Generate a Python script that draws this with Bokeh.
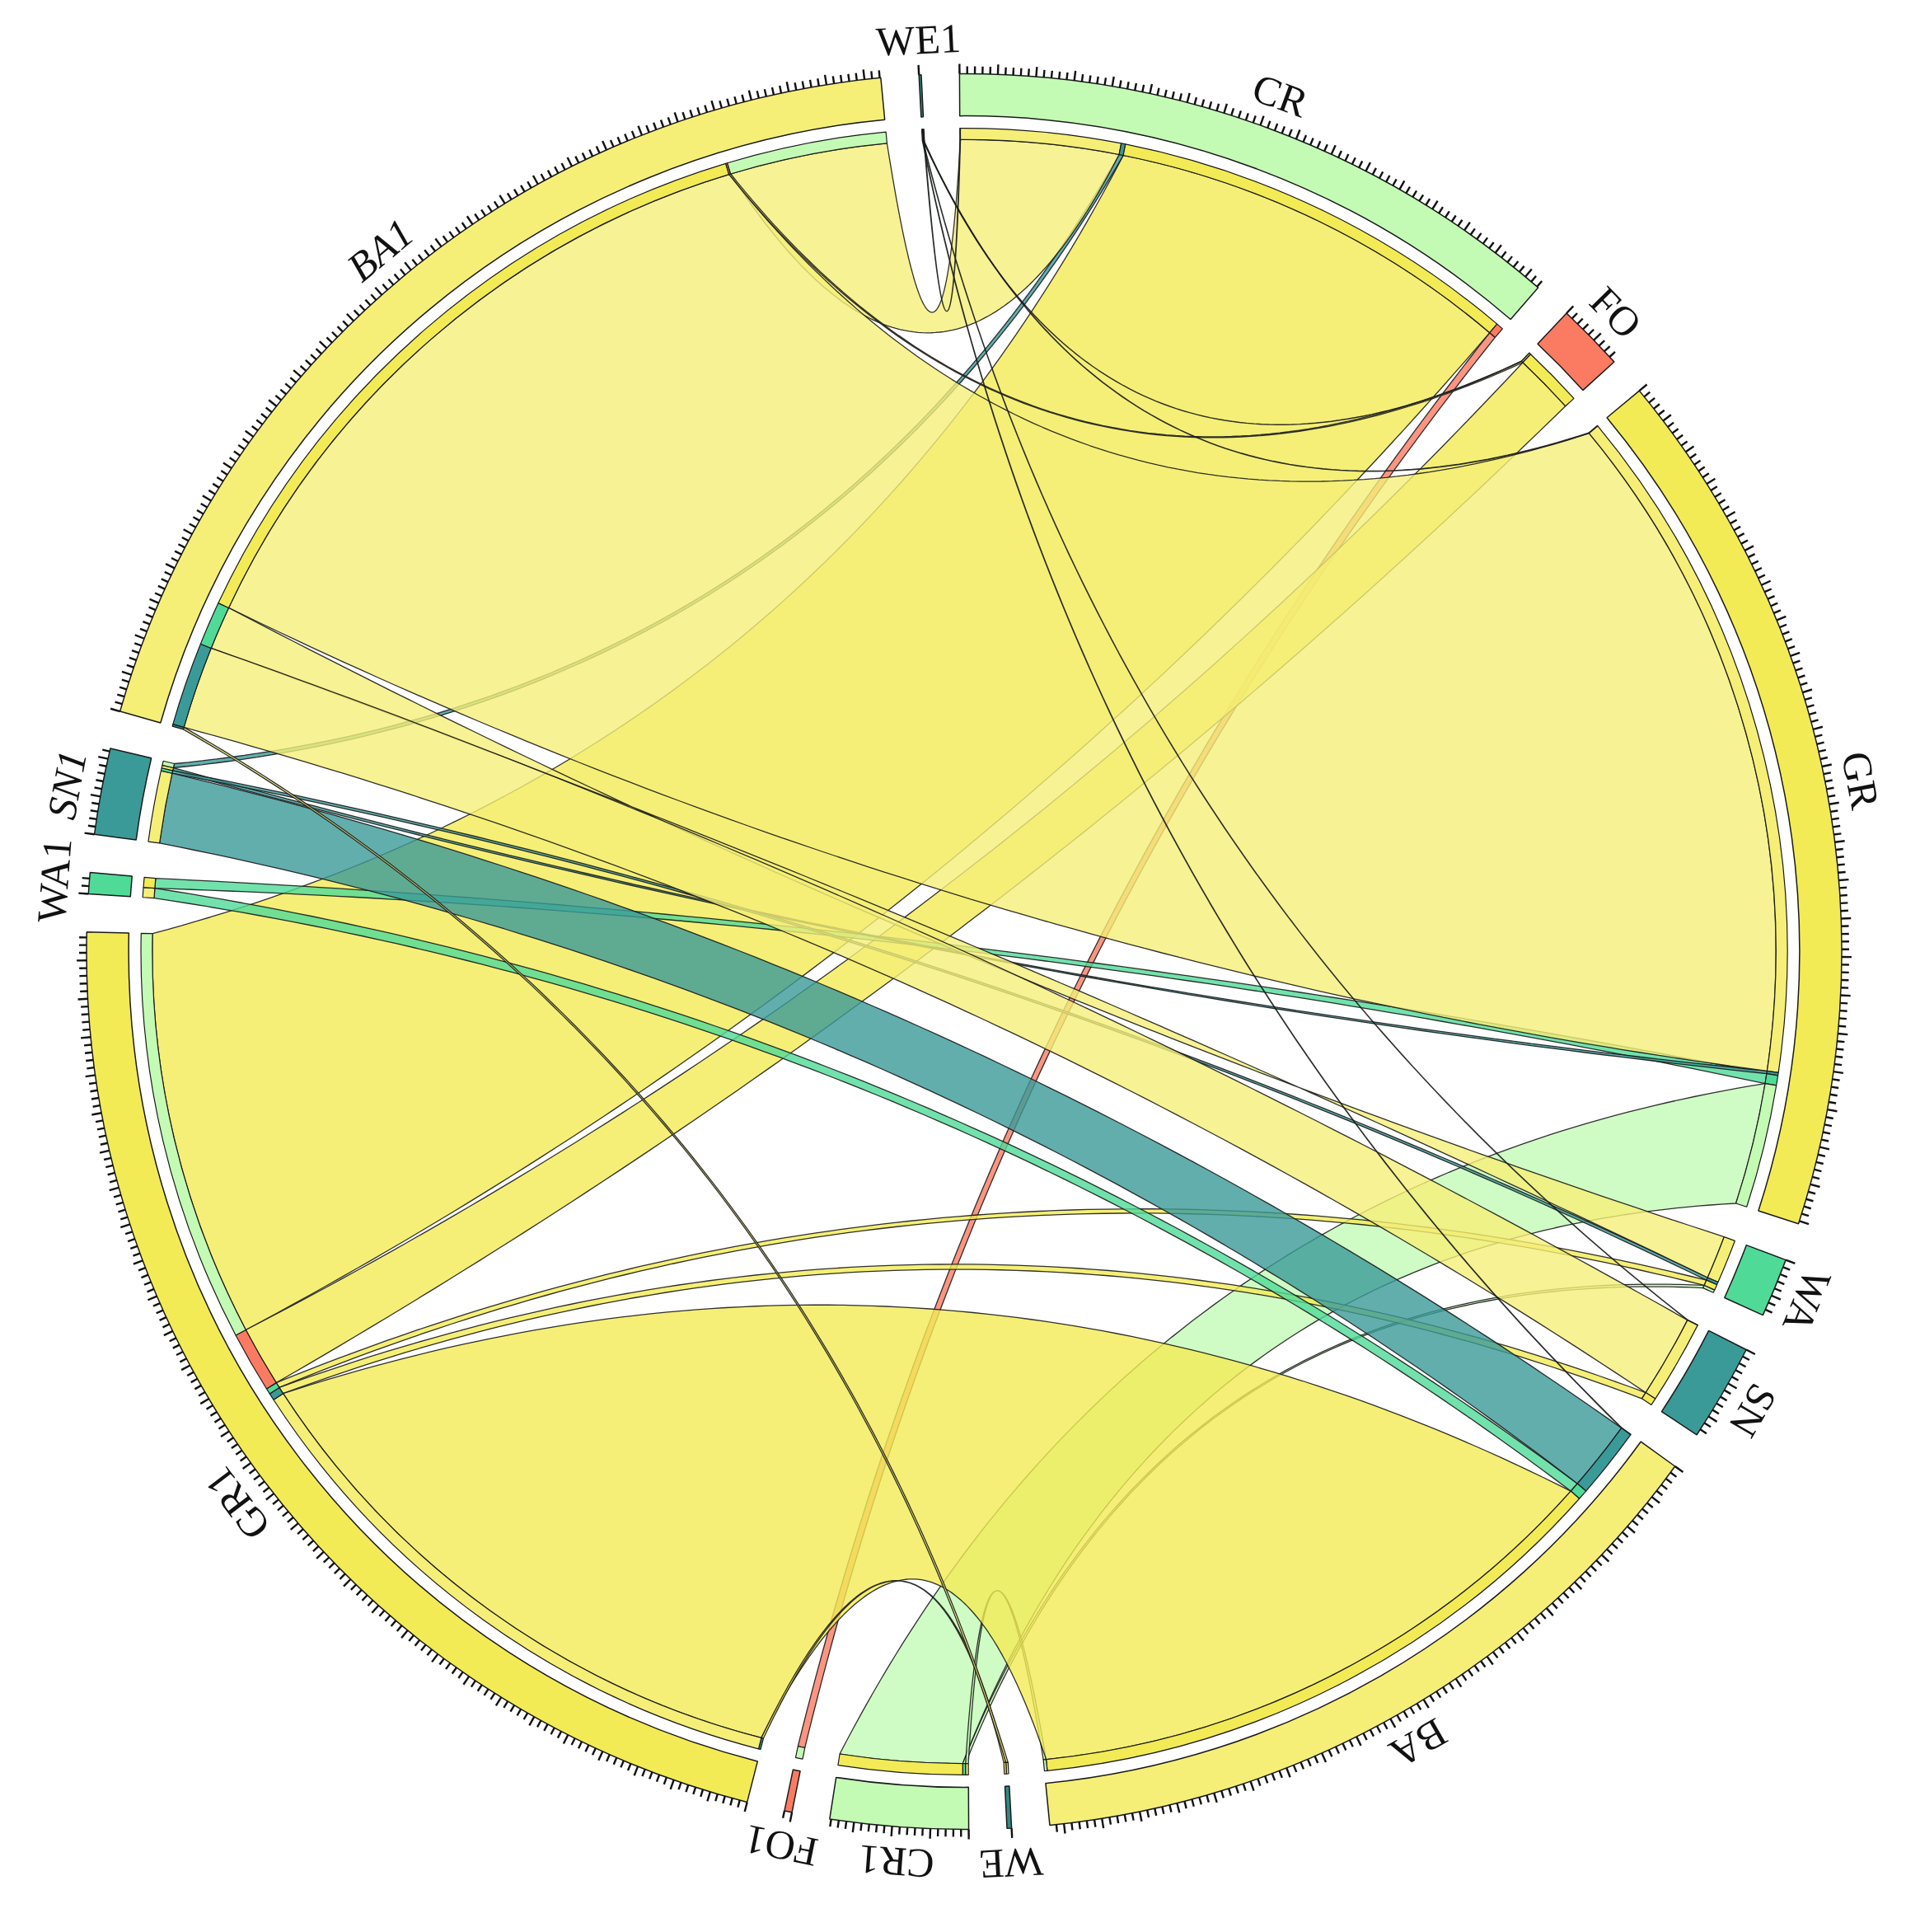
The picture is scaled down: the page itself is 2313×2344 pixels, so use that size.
import numpy as np
from bokeh.plotting import figure
from bokeh.models import ColumnDataSource, Range1d
from bokeh.embed import file_html
from bokeh.resources import INLINE
from bokeh.core.properties import value

# ---------------- data (transition matrix, rows -> columns) ----------------
rows = ["CR", "FO", "GR", "WA", "SN", "BA", "WE"]
cols = ["CR1", "FO1", "GR1", "WA1", "SN1", "BA1", "WE1"]
#          CR1   FO1   GR1   WA1   SN1   BA1    WE1
CR_to = [0.0,  0.5, 29.0,  0.0,  0.3, 11.25, 0.04]
FO_to = [0.0,  0.0,  4.3,  0.0,  0.0,  0.12, 0.02]
GR_to = [8.7,  0.0,  0.0,  0.7,  0.2, 48.05, 0.04]
WA_to = [0.2,  0.0,  0.4,  0.0,  0.2,  3.1,  0.0]
SN_to = [0.0,  0.0,  0.5,  0.0,  0.0,  5.9,  0.02]
BA_to = [0.2,  0.0, 42.5,  0.7,  5.0,  0.0,  0.03]
WE_to = [0.0,  0.0,  0.15, 0.0,  0.0,  0.15, 0.0]
row_colors = ["#C3FBB5", "#FA7B62", "#F3EB55", "#4FDB97", "#3A9A98", "#F5EF78", "#2F8A85"]
col_colors = ["#C3FBB5", "#FA7B62", "#F3EB55", "#4FDB97", "#3A9A98", "#F5EF78", "#2F8A85"]
italic_labels = ["SN1", "BA1"]
tick_step = 0.5

M = np.array([CR_to, FO_to, GR_to, WA_to, SN_to, BA_to, WE_to])

# ---------------- geometry ----------------
W, H = 2297, 2328
CX, CY = 1169.5, 1174.0
R = 1065.0
R_RING_IN = 0.952 * R
R_BAR_OUT = 0.938 * R
R_BAR_IN = 0.925 * R
R_LABEL = 1.04 * R
GAP = 2.5
START = 90.3
H_LINK = 0.195 * R

names = rows + cols
colors = row_colors + col_colors
totals = list(M.sum(axis=1)) + list(M.sum(axis=0))
total = sum(totals)
dpu = (360.0 - GAP * len(names)) / total  # degrees per unit

sec_start = {}
sec_end = {}
a = START
for n, t in zip(names, totals):
    sec_start[n] = a
    sec_end[n] = a - t * dpu
    a = sec_end[n] - GAP

# link positions within sectors
src_pos = {}
for i, rn in enumerate(rows):
    a = sec_start[rn]
    for j in reversed(range(len(cols))):
        v = M[i, j]
        if v > 0:
            src_pos[(i, j)] = (a, a - v * dpu)
            a -= v * dpu
tgt_pos = {}
for j, cn in enumerate(cols):
    a = sec_start[cn]
    for i in reversed(range(len(rows))):
        v = M[i, j]
        if v > 0:
            tgt_pos[(i, j)] = (a, a - v * dpu)
            a -= v * dpu


def pol(theta_deg, r):
    t = np.radians(theta_deg)
    return np.array([r * np.cos(t), r * np.sin(t)])


def arc(a0, a1, r):
    n = max(3, int(abs(a0 - a1) * 3) + 2)
    t = np.radians(np.linspace(a0, a1, n))
    return np.column_stack([r * np.cos(t), r * np.sin(t)])


def bez(a0, a1, r, n=90):
    p0 = pol(a0, r)
    p2 = pol(a1, r)
    d = abs((a0 - a1 + 180.0) % 360.0 - 180.0)
    mid = (p0 + p2) / 2.0
    nm = np.hypot(*mid)
    if nm > 1e-6:
        u = mid / nm
    else:
        u = np.array([0.0, 0.0])
    h = H_LINK * np.sqrt(max(np.cos(np.radians(d / 2.0)), 0.0))
    c = mid - 2.0 * h * u
    t = np.linspace(0, 1, n)[:, None]
    return (1 - t) ** 2 * p0 + 2 * (1 - t) * t * c + t ** 2 * p2


p = figure(width=W, height=H, x_range=Range1d(0, W), y_range=Range1d(0, H),
           output_backend="svg", toolbar_location=None,
           x_axis_type=None, y_axis_type=None, min_border=0)
p.outline_line_color = None
p.background_fill_color = "white"
p.border_fill_color = "white"

# ---------------- links ----------------
lx, ly, lc = [], [], []
for j in range(len(cols)):
    for i in range(len(rows)):
        if M[i, j] <= 0:
            continue
        s0, s1 = src_pos[(i, j)]
        t0, t1 = tgt_pos[(i, j)]
        pts = [arc(s0, s1, R_BAR_IN),
               bez(s1, t0, R_BAR_IN),
               arc(t0, t1, R_BAR_IN),
               bez(t1, s0, R_BAR_IN)]
        P = np.vstack(pts)
        lx.append(list(P[:, 0] + CX))
        ly.append(list(P[:, 1] + CY))
        lc.append(col_colors[j])
p.patches(xs="xs", ys="ys", source=ColumnDataSource(dict(xs=lx, ys=ly, c=lc)),
          fill_color="c", fill_alpha=0.8, line_color="#1a1a1a", line_width=1.3, line_alpha=0.9)

# ---------------- inner proportion bars ----------------
bs, be, bc = [], [], []
for (i, j), (a0, a1) in src_pos.items():
    bs.append(np.radians(a1)); be.append(np.radians(a0)); bc.append(col_colors[j])
for (i, j), (a0, a1) in tgt_pos.items():
    bs.append(np.radians(a1)); be.append(np.radians(a0)); bc.append(row_colors[i])
p.annular_wedge(x=CX, y=CY, inner_radius=R_BAR_IN, outer_radius=R_BAR_OUT,
                start_angle="s", end_angle="e", direction="anticlock",
                source=ColumnDataSource(dict(s=bs, e=be, c=bc)),
                fill_color="c", line_color="#1a1a1a", line_width=1.2)

# ---------------- outer sector ring ----------------
rs = [np.radians(sec_end[n]) for n in names]
re_ = [np.radians(sec_start[n]) for n in names]
p.annular_wedge(x=CX, y=CY, inner_radius=R_RING_IN, outer_radius=R,
                start_angle="s", end_angle="e", direction="anticlock",
                source=ColumnDataSource(dict(s=rs, e=re_, c=colors)),
                fill_color="c", line_color="#1a1a1a", line_width=1.5)

# ---------------- ticks ----------------
x0, y0, x1, y1 = [], [], [], []
for n, t in zip(names, totals):
    k = 0
    while k * tick_step <= t + 1e-9:
        ang = sec_start[n] - k * tick_step * dpu
        ln = 12 if k % 5 == 0 else 9
        q0 = pol(ang, R)
        q1 = pol(ang, R + ln)
        x0.append(q0[0] + CX); y0.append(q0[1] + CY)
        x1.append(q1[0] + CX); y1.append(q1[1] + CY)
        k += 1
p.segment(x0=x0, y0=y0, x1=x1, y1=y1, line_color="#111111", line_width=2.4)

# ---------------- labels ----------------
for style in ["normal", "italic"]:
    tx, ty, tt, ta = [], [], [], []
    for n in names:
        if (n in italic_labels) != (style == "italic"):
            continue
        mid = (sec_start[n] + sec_end[n]) / 2.0
        q = pol(mid, R_LABEL)
        tx.append(q[0] + CX); ty.append(q[1] + CY); tt.append(n)
        ta.append(np.radians(mid - 90))
    p.text(x=tx, y=ty, text=tt, angle=ta, text_align="center", text_baseline="middle",
           text_font=value("Liberation Serif"), text_font_size="50px",
           text_font_style=style, text_color="#111111")

open("out.html", "w").write(file_html(p, INLINE))
